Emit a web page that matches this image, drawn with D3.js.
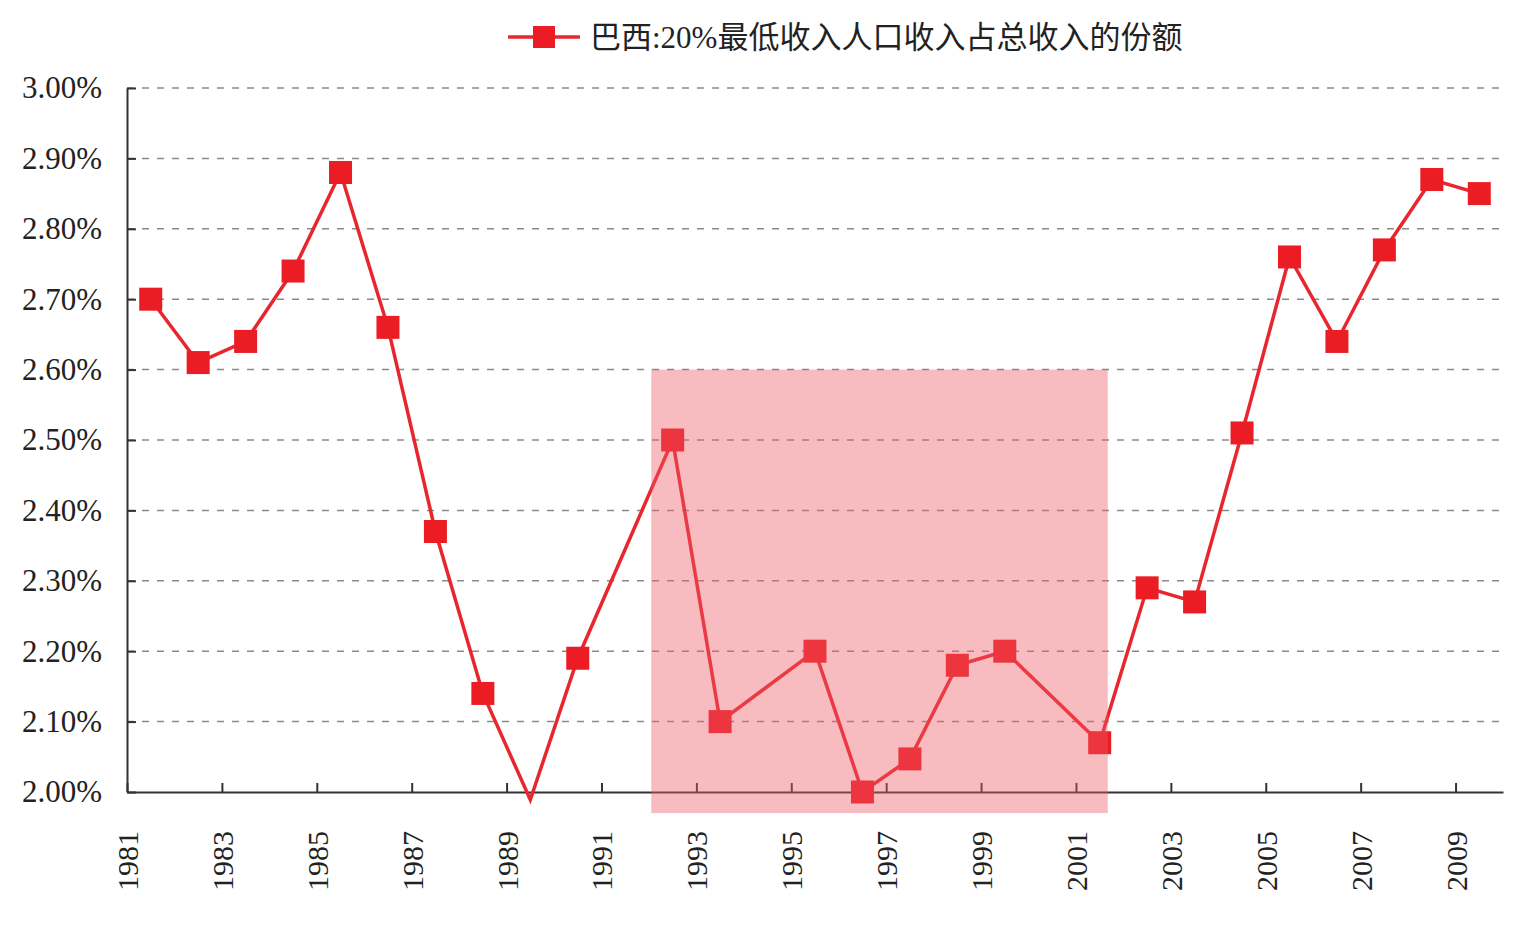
<!DOCTYPE html>
<html>
<head>
<meta charset="utf-8">
<script src="https://cdn.jsdelivr.net/npm/d3@7"></script>
<style>
body { margin: 0; background: #fff; }
text { font-family: "Liberation Serif", "Noto Sans CJK SC", serif; fill: #222; }
</style>
</head>
<body>
<div id="chart-area"></div>
<script>
// data
var seriesName = "巴西:20%最低收入人口收入占总收入的份额";
var years = d3.range(1981, 2010);
var shares = [2.70, 2.61, 2.64, 2.74, 2.88, 2.66, 2.37, 2.14, 1.989, 2.19,
    null, 2.50, 2.10, null, 2.20, 2.00, 2.047, 2.18, 2.20, null,
    2.07, 2.29, 2.27, 2.51, 2.76, 2.64, 2.77, 2.87, 2.85];
var noMarkerYears = [1989];
var yTicks = [2.0, 2.1, 2.2, 2.3, 2.4, 2.5, 2.6, 2.7, 2.8, 2.9, 3.0];
var xTicks = [1981, 1983, 1985, 1987, 1989, 1991, 1993, 1995, 1997, 1999, 2001, 2003, 2005, 2007, 2009];
var shadeYears = [1992.05, 2001.67];
var shadeShares = [2.60, 1.97];

var data = years.map((d, i) => ({year: d, value: shares[i]}))
    .filter((d) => d.value !== null);

var margin = {left: 127, right: 20, top: 88, bottom: 136};
var width = 1523 - margin.left - margin.right;
var height = 928 - margin.top - margin.bottom;
var red = "#ec1c24";

var svg = d3.select("#chart-area").append("svg")
    .attr("width", 1523)
    .attr("height", 928);
var g = svg.append("g")
    .attr("transform", "translate(" + margin.left + ", " + margin.top + ")");

var x = d3.scaleLinear()
    .domain([1981, 2010])
    .range([0, width]);
var y = d3.scaleLinear()
    .domain([2.0, 3.0])
    .range([height, 0]);

// grid lines
g.selectAll(".grid")
    .data(yTicks.filter((d) => d > 2.0))
    .enter().append("line")
    .attr("class", "grid")
    .attr("x1", 0)
    .attr("x2", x(2010) - 2)
    .attr("y1", (d) => y(d))
    .attr("y2", (d) => y(d))
    .attr("stroke", "#8a8a8a")
    .attr("stroke-width", 1.5)
    .attr("stroke-dasharray", "7,8");

// axes
var yAxis = d3.axisLeft(y)
    .tickValues(yTicks)
    .tickFormat((d) => d.toFixed(2) + "%")
    .tickSizeInner(-9)
    .tickSizeOuter(0)
    .tickPadding(25);
var yg = g.append("g")
    .attr("class", "y-axis")
    .call(yAxis);
yg.selectAll("text").attr("font-size", "31px");

var xAxis = d3.axisBottom(x)
    .tickValues(xTicks)
    .tickFormat(d3.format("d"))
    .tickSizeInner(-9)
    .tickSizeOuter(0);
var xg = g.append("g")
    .attr("class", "x-axis")
    .attr("transform", "translate(0, " + height + ")")
    .call(xAxis);
xg.selectAll("text")
    .attr("font-size", "30px")
    .attr("transform", "rotate(-90)")
    .attr("x", -39)
    .attr("y", 0)
    .attr("dy", "0.35em")
    .attr("text-anchor", "end");

svg.selectAll(".domain, .tick line")
    .attr("stroke", "#333")
    .attr("stroke-width", 2);

// series line
var line = d3.line()
    .x((d) => x(d.year + 0.5))
    .y((d) => y(d.value));
g.append("path")
    .datum(data)
    .attr("fill", "none")
    .attr("stroke", "#e8262d")
    .attr("stroke-width", 3.5)
    .attr("d", line);

var size = 23;
g.selectAll(".marker")
    .data(data.filter((d) => noMarkerYears.indexOf(d.year) < 0))
    .enter().append("rect")
    .attr("class", "marker")
    .attr("x", (d) => x(d.year + 0.5) - size / 2)
    .attr("y", (d) => y(d.value) - size / 2)
    .attr("width", size)
    .attr("height", size)
    .attr("fill", red);

// shaded period
g.append("rect")
    .attr("x", x(shadeYears[0]))
    .attr("y", y(shadeShares[0]))
    .attr("width", x(shadeYears[1]) - x(shadeYears[0]))
    .attr("height", y(shadeShares[1]) - y(shadeShares[0]))
    .attr("fill", "#ee5b65")
    .attr("fill-opacity", 0.41);

// legend
var legend = svg.append("g")
    .attr("transform", "translate(508, 37)");
legend.append("line")
    .attr("x1", 0)
    .attr("x2", 72)
    .attr("stroke", "#e8262d")
    .attr("stroke-width", 3.5);
legend.append("rect")
    .attr("x", 36 - 11)
    .attr("y", -11)
    .attr("width", 22)
    .attr("height", 22)
    .attr("fill", red);
legend.append("text")
    .attr("x", 82)
    .attr("y", 0)
    .attr("dy", "0.35em")
    .attr("font-size", "31px")
    .text(seriesName);
</script>
</body>
</html>
